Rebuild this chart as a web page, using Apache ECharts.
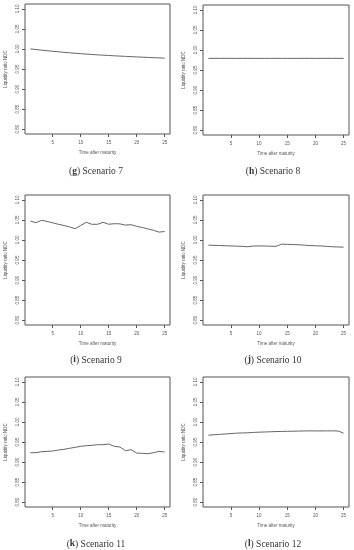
<!DOCTYPE html>
<html>
<head>
<meta charset="utf-8">
<script src="https://cdn.jsdelivr.net/npm/echarts@6/dist/echarts.min.js"></script>
<style>html,body{margin:0;padding:0;background:#fff}#c{width:354px;height:550px}</style>
</head>
<body>
<div id="c"></div>
<script>
const xValues = [1,2,3,4,5,6,7,8,9,10,11,12,13,14,15,16,17,18,19,20,21,22,23,24,25];
const xTickValues = [5,10,15,20,25];
const yTickValues = [0.80,0.85,0.90,0.95,1.00,1.05,1.10];
const captionLetters = ['g','h','i','j','k','l'];
const captionTexts = ['Scenario 7','Scenario 8','Scenario 9','Scenario 10','Scenario 11','Scenario 12'];
const xTitle = 'Time after maturity';
const yTitle = 'Liquidity ratio NDC';

const scenario7 = [1.000,0.9985,0.997,0.9956,0.9942,0.9929,0.9916,0.9904,0.9893,0.9882,0.9872,0.9862,0.9853,0.9845,0.9837,0.9829,0.9822,0.9815,0.9808,0.9801,0.9795,0.9789,0.9783,0.9777,0.9770];
const scenario8 = [0.979,0.979,0.979,0.979,0.979,0.979,0.979,0.979,0.979,0.979,0.979,0.979,0.979,0.979,0.979,0.979,0.979,0.979,0.979,0.979,0.979,0.979,0.979,0.979,0.979];
const scenario9 = [1.047,1.043,1.049,1.046,1.0425,1.039,1.036,1.0325,1.028,1.036,1.044,1.039,1.039,1.044,1.039,1.0405,1.040,1.037,1.038,1.034,1.031,1.0275,1.024,1.0195,1.021];
const scenario10 = [0.987,0.9865,0.986,0.9855,0.985,0.9845,0.984,0.983,0.985,0.985,0.9848,0.9845,0.984,0.9895,0.989,0.9885,0.988,0.987,0.986,0.9855,0.985,0.984,0.983,0.9825,0.982];
const scenario11 = [0.9233,0.9233,0.9258,0.9267,0.9275,0.930,0.9317,0.9342,0.9367,0.9392,0.9408,0.9417,0.9433,0.9433,0.945,0.9392,0.9375,0.9283,0.9308,0.9225,0.9217,0.9208,0.9233,0.9267,0.925];
const scenario12 = [0.967,0.968,0.969,0.970,0.971,0.972,0.9725,0.973,0.9738,0.9745,0.975,0.9755,0.976,0.9763,0.9766,0.9769,0.9772,0.9775,0.9778,0.9776,0.9776,0.9777,0.9778,0.9775,0.972];

const allSeries = [scenario7, scenario8, scenario9, scenario10, scenario11, scenario12];

const panels = [
  {left:25, top:4, width:145, height:130, cx:96, cy:172.5},
  {left:203, top:5, width:146, height:130, cx:273, cy:172.5},
  {left:25, top:195, width:145, height:130, cx:96, cy:361},
  {left:203, top:195, width:146, height:130, cx:273, cy:361},
  {left:25, top:377, width:145, height:130, cx:96, cy:545},
  {left:203, top:377, width:146, height:130, cx:273, cy:545}
];

const sans = 'Liberation Sans';
const serif = 'Liberation Serif';
const axisColor = '#555';
const textColor = '#555';

const grid = [], xAxis = [], yAxis = [], series = [], title = [];
panels.forEach((p, i) => {
  grid.push({left:p.left, top:p.top, width:p.width, height:p.height, show:true, borderColor:axisColor, borderWidth:1, backgroundColor:'transparent'});
  xAxis.push({
    type:'value', gridIndex:i, min:0.04, max:25.96,
    name:xTitle, nameLocation:'middle', nameGap:16,
    nameTextStyle:{fontFamily:sans, fontSize:4.5, color:textColor},
    axisLine:{show:false},
    axisTick:{show:true, length:3, customValues:xTickValues, lineStyle:{color:axisColor, width:1}},
    axisLabel:{show:true, customValues:xTickValues, margin:6, fontFamily:sans, fontSize:4.5, color:textColor},
    splitLine:{show:false}
  });
  yAxis.push({
    type:'value', gridIndex:i, min:0.788, max:1.112,
    name:yTitle, nameLocation:'middle', nameGap:17, nameRotate:90,
    nameTextStyle:{fontFamily:sans, fontSize:4.5, color:textColor},
    axisLine:{show:false},
    axisTick:{show:true, length:3, customValues:yTickValues, lineStyle:{color:axisColor, width:1}},
    axisLabel:{show:true, customValues:yTickValues, rotate:90, margin:5, fontFamily:sans, fontSize:4.5, color:textColor,
      formatter:v => Number(v).toFixed(2)},
    splitLine:{show:false}
  });
  series.push({
    type:'line', xAxisIndex:i, yAxisIndex:i,
    data: xValues.map((x, j) => [x, allSeries[i][j]]),
    showSymbol:false, symbol:'none', silent:true,
    lineStyle:{color:'#666', width:1}
  });
  title.push({
    text:'{p|(}{b|' + captionLetters[i] + '}{p|) ' + captionTexts[i] + '}',
    left:p.cx, top:p.cy - 6, textAlign:'center',
    padding:0,
    textStyle:{
      fontWeight:'normal',
      rich:{
        p:{fontFamily:serif, fontSize:9.5, fontWeight:'normal', color:'#333'},
        b:{fontFamily:serif, fontSize:9.5, fontWeight:'bold', color:'#333'}
      }
    }
  });
});

const chart = echarts.init(document.getElementById('c'), null, {renderer:'canvas'});
chart.setOption({animation:false, backgroundColor:'#fff', title, grid, xAxis, yAxis, series});
</script>
</body>
</html>
